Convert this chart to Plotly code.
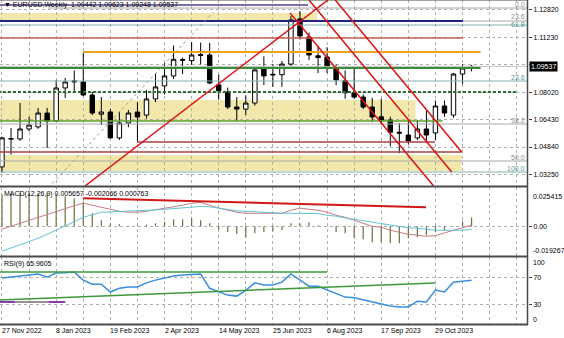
import pandas as pd
import plotly.graph_objects as go
from plotly.subplots import make_subplots

# ---------------- data ----------------
start = pd.Timestamp("2022-11-27")
n_weeks = 53
weeks = pd.date_range(start, periods=n_weeks, freq="7D")

opens = [1.0368, 1.0533, 1.0531, 1.0589, 1.0601, 1.0682, 1.0635, 1.0828, 1.0863, 1.0863,
         1.0787, 1.0675, 1.0688, 1.0537, 1.0624, 1.0688, 1.0670, 1.0764, 1.0840, 1.0898,
         1.0993, 1.0987, 1.1022, 1.1020, 1.0846, 1.0804, 1.0717, 1.0705, 1.0740, 1.0938,
         1.0903, 1.0905, 1.0967, 1.1230, 1.1125, 1.1015, 1.1008, 1.0944, 1.0870, 1.0800,
         1.0775, 1.0717, 1.0660, 1.0641, 1.0570, 1.0554, 1.0537, 1.0589, 1.0566, 1.0723,
         1.0670, 1.0909, 1.09442]
highs = [1.0545, 1.0595, 1.0740, 1.0660, 1.0712, 1.0712, 1.0875, 1.0886, 1.0930, 1.1033,
         1.0805, 1.0775, 1.0705, 1.0690, 1.0700, 1.0746, 1.0816, 1.0915, 1.0975, 1.1075,
         1.1005, 1.1095, 1.1092, 1.1090, 1.0905, 1.0830, 1.0775, 1.0785, 1.0945, 1.1012,
         1.0967, 1.0985, 1.1247, 1.1276, 1.1150, 1.1067, 1.1065, 1.0965, 1.0930, 1.0945,
         1.0790, 1.0770, 1.0765, 1.0660, 1.0624, 1.0640, 1.0640, 1.0695, 1.0755, 1.0755,
         1.0915, 1.0965, 1.09623]
lows = [1.0335, 1.0440, 1.0520, 1.0575, 1.0590, 1.0478, 1.0630, 1.0770, 1.0804, 1.0780,
        1.0670, 1.0612, 1.0533, 1.0525, 1.0600, 1.0516, 1.0650, 1.0745, 1.0790, 1.0880,
        1.0909, 1.0962, 1.0965, 1.0850, 1.0760, 1.0705, 1.0635, 1.0670, 1.0725, 1.0845,
        1.0835, 1.0835, 1.0955, 1.1110, 1.0990, 1.0915, 1.0915, 1.0845, 1.0765, 1.0765,
        1.0705, 1.0630, 1.0615, 1.0488, 1.0448, 1.0500, 1.0525, 1.0520, 1.0525, 1.0660,
        1.0655, 1.0852, 1.09248]
closes = [1.0537, 1.0531, 1.0589, 1.0612, 1.0682, 1.0635, 1.0828, 1.0863, 1.0868, 1.0787,
          1.0682, 1.0688, 1.0537, 1.0624, 1.0682, 1.0659, 1.0764, 1.0834, 1.0898, 1.0995,
          1.0990, 1.1020, 1.1018, 1.0857, 1.0811, 1.0717, 1.0705, 1.0740, 1.0933, 1.0898,
          1.0907, 1.0967, 1.1224, 1.1131, 1.1020, 1.1005, 1.0950, 1.0875, 1.0800, 1.0775,
          1.0717, 1.0659, 1.0641, 1.0570, 1.0565, 1.0519, 1.0589, 1.0554, 1.0723, 1.0682,
          1.0909, 1.0944, 1.09537]

macd_hist = [0.0205, 0.0214, 0.0214, 0.0214, 0.0214, 0.0214, 0.0201, 0.0194, 0.0181, 0.0155,
             0.0084, 0.0039, 0.0019, 0.0013, 0.0003, 0.0006, 0.0010, 0.0019, 0.0029, 0.0045,
             0.0045, 0.0052, 0.0039, 0.0019, -0.0025, -0.0038, -0.0051, -0.0071, -0.0045, -0.0038,
             -0.0032, -0.0025, 0.0019, 0.0019, 0.0026, 0.0006, 0.0001, -0.0038, -0.0045, -0.0077,
             -0.0084, -0.0104, -0.0104, -0.0110, -0.0110, -0.0077, -0.0071, -0.0058, -0.0038, -0.0025,
             0.0002, 0.0032, 0.005657]
macd_pink = [-0.0019, 0.0000, 0.0019, 0.0039, 0.0058, 0.0078, 0.0097, 0.0117, 0.0133, 0.0149,
             0.0136, 0.0123, 0.0111, 0.0097, 0.0091, 0.0091, 0.0097, 0.0107, 0.0117, 0.0123,
             0.0136, 0.0149, 0.0155, 0.0136, 0.0117, 0.0104, 0.0091, 0.0084, 0.0084, 0.0084,
             0.0084, 0.0084, 0.0104, 0.0117, 0.0110, 0.0104, 0.0091, 0.0071, 0.0058, 0.0039,
             0.0019, 0.0000, -0.0006, -0.0026, -0.0039, -0.0052, -0.0058, -0.0065, -0.0061, -0.0042,
             -0.0026, -0.0010, 0.000763]
macd_teal = [-0.0162, -0.0142, -0.0123, -0.0100, -0.0078, -0.0052, -0.0026, 0.0000, 0.0029, 0.0058,
             0.0074, 0.0091, 0.0093, 0.0095, 0.0097, 0.0098, 0.0102, 0.0106, 0.0110, 0.0115,
             0.0119, 0.0123, 0.0128, 0.0126, 0.0117, 0.0107, 0.0100, 0.0097, 0.0093, 0.0089,
             0.0085, 0.0084, 0.0084, 0.0084, 0.0084, 0.0082, 0.0071, 0.0065, 0.0054, 0.0045,
             0.0036, 0.0026, 0.0016, 0.0006, -0.0003, -0.0010, -0.0013, -0.0019, -0.0026, -0.0026,
             -0.0026, -0.0026, -0.002066]
rsi = [69, 70.5, 72, 73.5, 75, 70.5, 76.5, 77, 78, 66,
       60, 60, 48.5, 54, 56, 56, 62, 66, 69, 72,
       73.5, 74, 75, 54, 48.5, 44, 42.5, 51, 62, 59,
       59, 63, 75, 66, 57, 57, 51.5, 45.5, 41, 40,
       37, 34, 32, 28, 26.5, 26.5, 35, 34, 51.5, 48.5,
       63, 64.7, 65.9605]

price_ticks = [1.12820, 1.11230, 1.09625, 1.08020, 1.06430, 1.04840, 1.03250]
price_tick_text = ["1.12820", "1.11230", "", "1.08020", "1.06430", "1.04840", "1.03250"]
price_range = [1.02570, 1.13402]
macd_range = [-0.019267, 0.025415]
last_price = 1.09537
header = "▼ EURUSD,Weekly  1.09442 1.09623 1.09248 1.09537"
macd_label = "MACD(12,26,9) 0.005657 -0.002066 0.000763"
rsi_label = "RSI(9) 65.9605"

# horizontal objects: (price, week_from, week_to, color, width, dash)
h_lines = [
    (1.13111, -1, 33.9, "#5a3c8c", 1.5, "solid"),
    (1.12936, 5.1, 60, "#a8a8a8", 1, "solid"),
    (1.12179, -1, 60, "#a8a8a8", 1, "solid"),
    (1.12179, -1, 51.05, "#23237a", 2, "solid"),
    (1.11946, -1, 60, "#80b0b0", 1, "solid"),
    (1.11189, -1, 51.05, "#c8604c", 1.5, "solid"),
    (1.10374, 8.97, 53.0, "#f0a41e", 2, "solid"),
    (1.09537, -1, 60, "#c0c0c0", 1, "solid"),
    (1.09442, -1, 53.0, "#3c8a3c", 2, "solid"),
    (1.08685, -1, 60, "#80b0b0", 1, "solid"),
    (1.08044, -1, 56.9, "#2e6e2e", 2, "3px,2px"),
    (1.06355, -1, 48.8, "#5aa02c", 1.5, "solid"),
    (1.06180, -1, 60, "#a8a8a8", 1, "solid"),
    (1.05132, 14.95, 47.95, "#a84040", 1.5, "solid"),
    (1.04550, -1, 50.9, "#a84040", 1.5, "solid"),
    (1.04026, -1, 60, "#a8a8a8", 1, "solid"),
    (1.03385, -1, 60, "#80b0b0", 1, "solid"),
]
# zones: (price_top, price_bottom, week_from, week_to)
zones = [
    (1.12645, 1.12238, -1, 34.9),
    (1.07578, 1.06355, -1, 45.8),
    (1.04375, 1.03443, -1, 50.9),
]
# fib labels: (price, text, color, shift)
fib_labels = [
    (1.12936, "0.0", "#909090", -2), (1.12179, "23.6", "#909090", -1),
    (1.11946, "61.8", "#5f9a9a", -5),
    (1.08685, "23.6", "#5f9a9a", -2), (1.06180, "38.2", "#909090", -2),
    (1.04026, "50.0", "#909090", -2), (1.03385, "100.0", "#5f9a9a", -2),
]
# trend lines: (week0, price0, week1, price1, color, width, dash)
trend_lines = [
    (9.19, 1.02570, 36.1, 1.13402, "#dd1111", 1.5, "solid"),
    (31.9, 1.12645, 47.8, 1.02570, "#dd1111", 1.5, "solid"),
    (34.0, 1.13402, 49.8, 1.03385, "#dd1111", 1.5, "solid"),
    (36.9, 1.13402, 50.9, 1.04550, "#dd1111", 1.5, "solid"),
    (5.1, 1.02454, 23.4, 1.12704, "#999999", 1, "dot"),
]
macd_trend = (8.97, 0.0181, 46.96, 0.0123)
rsi_lines = [
    (-1, 77.9, 36.0, 77.9, "#3c9a3c", 1.5),
    (-0.22, 36.8, 47.95, 61.8, "#3c9a3c", 1.5),
]

# ---------------- figure ----------------
def wdate(i):
    return start + pd.Timedelta(days=7 * i)

PW, PH = 528, 325  # plot area in px

fig = make_subplots(rows=3, cols=1, shared_xaxes=True, vertical_spacing=0)

fig.add_trace(go.Candlestick(
    x=weeks, open=opens, high=highs, low=lows, close=closes,
    increasing=dict(line=dict(color="black", width=1), fillcolor="white"),
    decreasing=dict(line=dict(color="black", width=1), fillcolor="black"),
    whiskerwidth=0, hoverinfo="skip"), row=1, col=1)

# histogram as thin 1px stems built from the data
hx, hy = [], []
for d, v in zip(weeks, macd_hist):
    hx += [d, d, None]
    hy += [0, v, None]
fig.add_trace(go.Scatter(x=hx, y=hy, mode="lines", line=dict(color="#6e6e42", width=1.2),
                         connectgaps=False), row=2, col=1)
fig.add_trace(go.Scatter(x=weeks, y=macd_pink, mode="lines",
                         line=dict(color="#cc7a80", width=1)), row=2, col=1)
fig.add_trace(go.Scatter(x=weeks, y=macd_teal, mode="lines",
                         line=dict(color="#62c4d6", width=1)), row=2, col=1)

fig.add_trace(go.Scatter(x=weeks, y=rsi, mode="lines",
                         line=dict(color="#3a8ee0", width=1.5)), row=3, col=1)

shapes = []
for top, bot, w0, w1 in zones:
    shapes.append(dict(type="rect", xref="x", yref="y", x0=wdate(w0), x1=wdate(w1),
                       y0=bot, y1=top, fillcolor="#f3e8ab", line=dict(width=0), layer="below"))
for p, w0, w1, c, wd, ds in h_lines:
    shapes.append(dict(type="line", xref="x", yref="y", x0=wdate(w0), x1=wdate(w1),
                       y0=p, y1=p, line=dict(color=c, width=wd, dash=ds)))
for w0, p0, w1, p1, c, wd, ds in trend_lines:
    shapes.append(dict(type="line", xref="x", yref="y", x0=wdate(w0), x1=wdate(w1),
                       y0=p0, y1=p1, line=dict(color=c, width=wd, dash=ds)))
w0, v0, w1, v1 = macd_trend
shapes.append(dict(type="line", xref="x2", yref="y2", x0=wdate(w0), x1=wdate(w1),
                   y0=v0, y1=v1, line=dict(color="#d01818", width=2)))
for w0, r0, w1, r1, c, wd in rsi_lines:
    shapes.append(dict(type="line", xref="x3", yref="y3", x0=wdate(w0), x1=wdate(w1),
                       y0=r0, y1=r1, line=dict(color=c, width=wd)))
# purple short marks in RSI
for a, b in [(-0.3, 1.44), (5.2, 7.0)]:
    shapes.append(dict(type="line", xref="x3", yref="y3", x0=wdate(a), x1=wdate(b),
                       y0=33.8, y1=33.8, line=dict(color="#8a3ca8", width=2)))
shapes.append(dict(type="line", xref="x3", yref="y3", x0=wdate(1.44), x1=wdate(5.2),
                   y0=33.8, y1=33.8, line=dict(color="#707070", width=1.5)))

def py(px):
    return (PH - px) / PH

for ypx in [186.5, 256.5, 324.5]:
    shapes.append(dict(type="line", xref="paper", yref="paper", x0=0, x1=1, y0=py(ypx), y1=py(ypx),
                       line=dict(color="#4a4a4a", width=2)))
shapes.append(dict(type="line", xref="paper", yref="paper", x0=(PW - 0.5) / PW, x1=(PW - 0.5) / PW,
                   y0=0, y1=1, line=dict(color="#4a4a4a", width=1.5)))
shapes.append(dict(type="line", xref="paper", yref="paper", x0=0, x1=1, y0=1, y1=1,
                   line=dict(color="#4a4a4a", width=1)))

annotations = []
annotations.append(dict(text=header, xref="paper", yref="paper", x=0, y=1, xanchor="left",
                        yanchor="top", xshift=2, yshift=1, showarrow=False,
                        font=dict(size=7, color="black")))
annotations.append(dict(text=macd_label, xref="paper", yref="y2", x=0, y=macd_range[1],
                        xanchor="left", yanchor="top", xshift=2, yshift=-1, showarrow=False,
                        font=dict(size=7, color="black")))
annotations.append(dict(text=rsi_label, xref="paper", yref="y3", x=0, y=100,
                        xanchor="left", yanchor="top", xshift=2, yshift=-1, showarrow=False,
                        font=dict(size=7, color="black")))
for p, t, c, sh in fib_labels:
    annotations.append(dict(text=t, xref="paper", yref="y", x=1, y=p, xanchor="right",
                            yanchor="bottom", xshift=-1, yshift=sh, showarrow=False,
                            font=dict(size=7, color=c)))
annotations.append(dict(text=f"{last_price:.5f}", xref="paper", yref="y", x=1, y=last_price,
                        xanchor="left", yanchor="middle", xshift=1, showarrow=False,
                        bgcolor="black", borderpad=1, font=dict(size=7, color="white")))
for v, t, anc in [(macd_range[1], "0.025415", "top"), (macd_range[0], "-0.019267", "bottom")]:
    annotations.append(dict(text=t, xref="paper", yref="y2", x=1, y=v, xanchor="left",
                            yanchor=anc, xshift=3, yshift=-4 if anc == "top" else 0,
                            showarrow=False, font=dict(size=7, color="black")))
for v, t, anc in [(100, "100", "top"), (0, "0", "bottom")]:
    annotations.append(dict(text=t, xref="paper", yref="y3", x=1, y=v, xanchor="left",
                            yanchor=anc, xshift=3, showarrow=False,
                            font=dict(size=7, color="black")))
for k in range(0, 54, 6):
    d = wdate(k)
    annotations.append(dict(text=f"{d.day} {d.strftime('%b %Y')}", xref="x3", yref="paper",
                            x=d, y=0, xanchor="left", yanchor="top", xshift=-2, yshift=0,
                            showarrow=False, font=dict(size=7, color="black")))

x_range = [wdate(-0.22), wdate(58.25)]
grid_vals = [wdate(k) for k in range(0, 60, 3)]
for ax in ["xaxis", "xaxis2", "xaxis3"]:
    fig.layout[ax].update(range=x_range, tickvals=grid_vals, showticklabels=False, showgrid=True,
                          gridcolor="#b0b0b0", griddash="dot", gridwidth=1, zeroline=False,
                          showline=False, ticks="", rangeslider=dict(visible=False))

fig.update_layout(
    width=564, height=338, margin=dict(l=0, r=36, t=0, b=13),
    paper_bgcolor="white", plot_bgcolor="white", showlegend=False,
    font=dict(family="Liberation Sans, Arial, sans-serif", size=7, color="black"),
    shapes=shapes, annotations=annotations,
    yaxis=dict(domain=[py(186), 1], range=price_range, side="right", tickvals=price_ticks,
               ticktext=price_tick_text, showgrid=True, gridcolor="#b0b0b0", griddash="dot",
               zeroline=False, ticks="outside", ticklen=3, tickcolor="#404040",
               tickfont=dict(size=7)),
    yaxis2=dict(domain=[py(256), py(187)], range=macd_range, side="right", tickvals=[0],
                ticktext=["0.00"], showgrid=True, gridcolor="#b0b0b0", griddash="dot",
                zeroline=False, ticks="outside", ticklen=3, tickcolor="#404040",
                tickfont=dict(size=7)),
    yaxis3=dict(domain=[0, py(257)], range=[0, 100], side="right", tickvals=[30, 70],
                ticktext=["30", "70"], showgrid=True, gridcolor="#b0b0b0", griddash="dot",
                zeroline=False, ticks="outside", ticklen=3, tickcolor="#404040",
                tickfont=dict(size=7)),
)

fig.write_html("out.html")
